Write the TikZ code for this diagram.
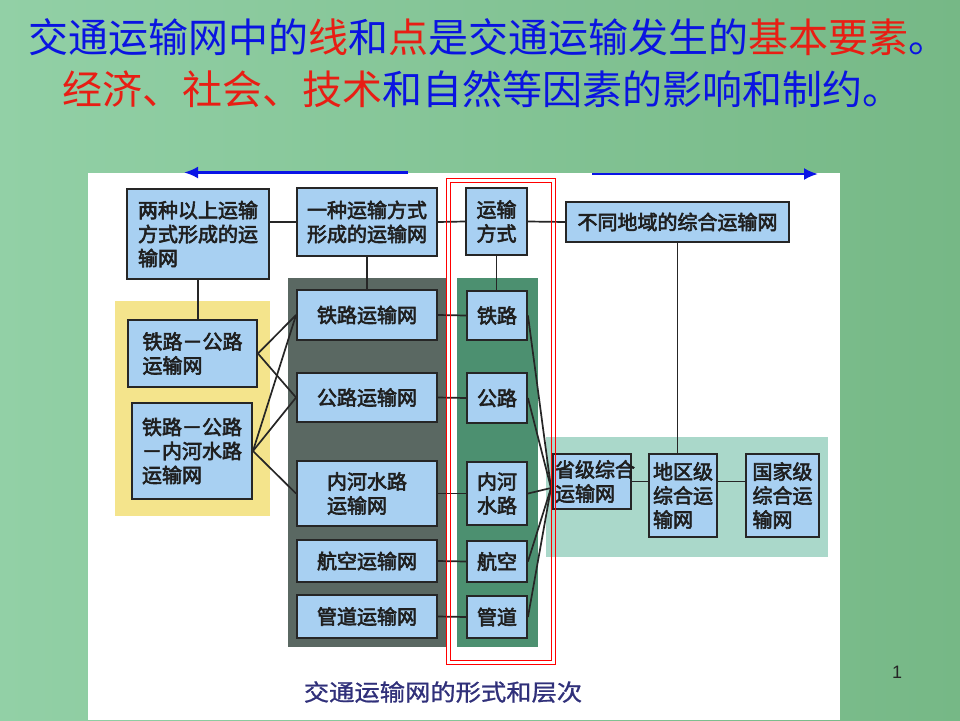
\documentclass[tikz,border=0pt]{standalone}
\usepackage{fontspec}
\setmainfont{Liberation Sans}
\newfontfamily\cjk{Noto Sans CJK SC}
\newfontfamily\cjkb[FakeBold=3]{Noto Sans CJK SC}
\newfontfamily\cjkm[FakeBold=1]{Noto Sans CJK SC}
\usetikzlibrary{arrows.meta}
\definecolor{bgL}{RGB}{146,208,166}
\definecolor{bgR}{RGB}{118,184,134}
\definecolor{tblue}{RGB}{10,20,225}
\definecolor{tred}{RGB}{232,30,20}
\definecolor{boxblue}{RGB}{168,208,242}
\definecolor{pyellow}{RGB}{244,228,140}
\definecolor{pgray}{RGB}{90,104,98}
\definecolor{pgreen}{RGB}{76,144,112}
\definecolor{pteal}{RGB}{170,216,202}
\definecolor{capblue}{RGB}{48,48,122}
\definecolor{arrblue}{RGB}{10,20,230}
\begin{document}
\begin{tikzpicture}[x=1pt,y=-1pt,
  box/.style={draw=black!85, line width=1.9pt, fill=boxblue, inner sep=0pt, align=left,
    text=black!88, font=\cjkb\fontsize{20}{24}\selectfont},
  link/.style={draw=black!85, line width=1.7pt},
  ttl/.style={inner sep=0pt, anchor=west, font=\cjk\fontsize{40}{44}\selectfont},
  bluearrow/.style={draw=arrblue, line width=2.6pt, -{Latex[length=14pt,width=12pt]}},
  redframe/.style={draw=red, line width=1pt}
]
\useasboundingbox (0,0) rectangle (960,720);
% background
\shade[left color=bgL, right color=bgR] (0,0) rectangle (960,720);
\fill[white] (88,173) rectangle (840,720);
% panels
\fill[pyellow] (115,301) rectangle (270,516);
\fill[pgray] (288,278) rectangle (447,647);
\fill[pgreen] (457,278) rectangle (538,647);
\fill[pteal] (546,437) rectangle (828,557);
% title
\node[ttl, text=tblue] (t1) at (28,37) {交通运输网中的\textcolor{tred}{线}和\textcolor{tred}{点}是交通运输发生的\textcolor{tred}{基本要素}。};
\node[ttl, text=tred] (t2) at (62,89) {经济、社会、技术\textcolor{tblue}{和自然等因素的影响和制约。}};
% arrows
\coordinate (la0) at (408,172.5);
\coordinate (la1) at (184,172.5);
\coordinate (ra0) at (592,174);
\coordinate (ra1) at (818,174);
\draw[bluearrow] (la0) -- (la1);
\draw[bluearrow] (ra0) -- (ra1);
% connectors (drawn first, boxes on top)
\coordinate (P) at (551,488);
% boxes
\node[box, minimum width=142, minimum height=90] (A) at (198,234) {两种以上运输\\方式形成的运\\输网};
\node[box, minimum width=140, minimum height=68] (B) at (367,222) {一种运输方式\\形成的运输网};
\node[box, minimum width=61, minimum height=67] (C) at (496.5,221.5) {运输\\方式};
\node[box, minimum width=223, minimum height=40] (D) at (677.5,222) {不同地域的综合运输网};
\node[box, minimum width=129, minimum height=67] (E) at (192.5,353.5) {铁路－公路\\运输网};
\node[box, minimum width=120, minimum height=96] (F) at (192,451) {铁路－公路\\－内河水路\\运输网};
\node[box, minimum width=140, minimum height=50] (G1) at (367,315) {铁路运输网};
\node[box, minimum width=140, minimum height=49] (G2) at (367,397.5) {公路运输网};
\node[box, minimum width=140, minimum height=65] (G3) at (367,493.5) {内河水路\\运输网};
\node[box, minimum width=140, minimum height=42] (G4) at (367,561) {航空运输网};
\node[box, minimum width=140, minimum height=43] (G5) at (367,616.5) {管道运输网};
\node[box, minimum width=60, minimum height=49] (H1) at (497,315.5) {铁路};
\node[box, minimum width=60, minimum height=50] (H2) at (497,398) {公路};
\node[box, minimum width=60, minimum height=63] (H3) at (497,493.5) {内河\\水路};
\node[box, minimum width=60, minimum height=41] (H4) at (497,561.5) {航空};
\node[box, minimum width=60, minimum height=42] (H5) at (497,617) {管道};
\node[box, minimum width=78, minimum height=55, text width=74pt] (I1) at (592,481.5) {省级综合\\运输网};
\node[box, minimum width=68, minimum height=83] (I2) at (683,495.5) {地区级\\综合运\\输网};
\node[box, minimum width=73, minimum height=83] (I3) at (782.5,495.5) {国家级\\综合运\\输网};
% connectors
\draw[link] (A.east |- B.west) -- (B.west);
\draw[link] (B.east) -- (C.west);
\draw[link] (C.east) -- (D.west);
\draw[link] (A.south) -- (A.south |- E.north);
\draw[link] (B.south) -- (B.south |- G1.north);
\draw[link] (C.south) -- (C.south |- H1.north);
\draw[link] (D.south) -- (D.south |- I2.north);
\draw[link] (E.east) -- (G1.west);
\draw[link] (E.east) -- (G2.west);
\draw[link] (F.east) -- (G1.west);
\draw[link] (F.east) -- (G2.west);
\draw[link] (F.east) -- (G3.west);
\draw[link] (G1.east) -- (H1.west);
\draw[link] (G2.east) -- (H2.west);
\draw[link] (G3.east) -- (H3.west);
\draw[link] (G4.east) -- (H4.west);
\draw[link] (G5.east) -- (H5.west);
\draw[link] (H1.east) -- (P);
\draw[link] (H2.east) -- (P);
\draw[link] (H3.east) -- (P);
\draw[link] (H4.east) -- (P);
\draw[link] (H5.east) -- (P);
\draw[link] (I1.east) -- (I1.east -| I2.west);
\draw[link] (I2.east |- I1.east) -- (I1.east -| I3.west);
% red double frame
\draw[redframe] (446.5,178.5) rectangle (555,664);
\draw[redframe] (450,182) rectangle (551.5,660.5);
% caption and page number
\node[inner sep=0pt, text=capblue, font=\cjkm\fontsize{23}{26}\selectfont] (cap) at (443,692) {\scalebox{1.1}[1]{交通运输网的形式和层次}};
\node[inner sep=0pt, text=black!85, font=\fontsize{18}{20}\selectfont] (pn) at (897,672) {1};
\end{tikzpicture}
\end{document}
